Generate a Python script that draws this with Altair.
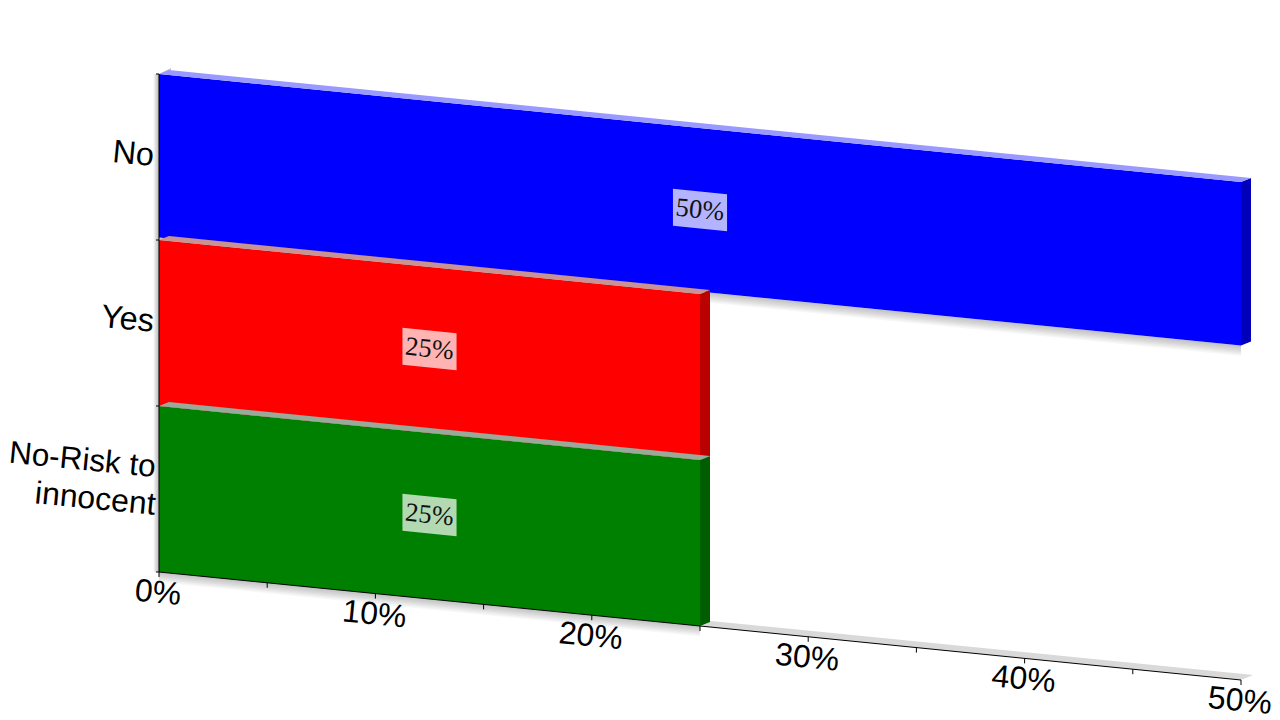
import altair as alt
import pandas as pd

category_lines = [["No"], ["Yes"], ["No-Risk to", "innocent"]]
values = [50, 25, 25]
fronts = ["#0000ff", "#ff0000", "#008000"]
sides = ["#0000bb", "#bb0000", "#005e00"]
tops = ["#9999ff", "#c99393", "#9aaa9a"]
x_ticks = [0, 10, 20, 30, 40, 50]
minor_ticks = [5, 15, 25, 35, 45]

# scale set-up: x in percent, y in category bands, both sheared together
W, H = 1264, 710
PCT = 21.64
BAND = 166.0
X0 = (159 - 8) / PCT
Y0 = (572 - 8) / BAND
x_scale = alt.Scale(domain=[-X0, W / PCT - X0], nice=False, zero=False)
y_scale = alt.Scale(domain=[(564 - H) / BAND, Y0], nice=False, zero=False)
SHEAR = (108 / 50) / BAND
DX, DY = 10 / PCT, 4 / BAND
FDX, FDY = 12 / PCT, 5 / BAND
n = len(category_lines)
# perspective shortens the far bar a little along its lower edge
bottom_lift = [2.5 / BAND, 0.0, 0.0]


def sy(level, x):
    return level - SHEAR * x


def enc(chart):
    return chart.encode(
        x=alt.X("x:Q", scale=x_scale, axis=None),
        y=alt.Y("y:Q", scale=y_scale, axis=None),
        y2="y2:Q",
    )


def area(rows, color, opacity=1.0):
    df = pd.DataFrame(rows, columns=["x", "y", "y2"])
    return enc(alt.Chart(df).mark_area(orient="vertical", color=color, opacity=opacity, interpolate="linear"))


def front(level, v, color, lift=0.0):
    rows = [(0, sy(level + 1, 0), sy(level, 0) + lift),
            (v, sy(level + 1, v), sy(level, v) + lift)]
    return area(rows, color)


def top_face(level, v, color, ddx=DX, ddy=DY):
    f = lambda x: sy(level, x)
    rows = [(0, f(0), f(0)),
            (ddx, f(ddx) + ddy + SHEAR * ddx, f(ddx)),
            (v, f(v) + ddy + SHEAR * ddx, f(v)),
            (v + ddx, f(v) + ddy, f(v) + ddy)]
    return area(rows, color)


def side_face(level, v, color, lift=0.0):
    rows = [(v, sy(level + 1, v), sy(level, v) + lift),
            (v + DX, sy(level + 1, v) + DY, sy(level, v) + DY + lift)]
    return area(rows, color)


layers = []

# soft shadows
for k in range(1, 9):
    off = k * 1.3 / BAND
    layers.append(area([(0, sy(n - 1, 0) + bottom_lift[0], sy(n - 1, 0) + bottom_lift[0] - off),
                        (values[0], sy(n - 1, values[0]) + bottom_lift[0],
                         sy(n - 1, values[0]) + bottom_lift[0] - off)], "#000000", 0.03))
    layers.append(area([(0, sy(0, 0), sy(0, 0) - off),
                        (values[-1], sy(0, values[-1]), sy(0, values[-1]) - off)], "#000000", 0.03))
    side = k * 0.7 / PCT
    layers.append(area([(-side, n, 0), (0, n, 0)], "#000000", 0.035))

# floor and the top of the wall
layers.append(top_face(0, max(values), "#d9d9d9", FDX, FDY))
layers.append(area([(0, n, n), (FDX, n + 6 / BAND, n + 2 / BAND)], "#c4c4c4"))

# bars, back to front
for i, (v, f, s, t) in enumerate(zip(values, fronts, sides, tops)):
    level = n - 1 - i
    layers.append(front(level, v, f, lift=bottom_lift[i]))
    layers.append(side_face(level, v, s, lift=bottom_lift[i]))
    layers.append(top_face(level + 1, v, t))

# axes lines and ticks
base = pd.DataFrame({"x": [0, max(values)], "y": [sy(0, 0), sy(0, max(values))]})
layers.append(alt.Chart(base).mark_line(color="#000000", strokeWidth=1).encode(
    x=alt.X("x:Q", scale=x_scale, axis=None), y=alt.Y("y:Q", scale=y_scale, axis=None)))
layers.append(alt.Chart(pd.DataFrame({"x": [0], "y": [0], "y2": [n]})).mark_rule(color="#000000", strokeWidth=1).encode(
    x=alt.X("x:Q", scale=x_scale, axis=None), y=alt.Y("y:Q", scale=y_scale, axis=None), y2="y2:Q"))
tick_vals = sorted(x_ticks + minor_ticks)
ticks = pd.DataFrame({"x": tick_vals,
                      "y": [sy(0, t) for t in tick_vals],
                      "y2": [sy(0, t) - 5 / BAND for t in tick_vals]})
layers.append(alt.Chart(ticks).mark_rule(color="#000000", strokeWidth=1).encode(
    x=alt.X("x:Q", scale=x_scale, axis=None), y=alt.Y("y:Q", scale=y_scale, axis=None), y2="y2:Q"))
lticks = pd.DataFrame({"x": [0] * (n + 1), "x2": [-3 / PCT] * (n + 1), "y": list(range(n + 1))})
layers.append(alt.Chart(lticks).mark_rule(color="#000000", strokeWidth=1).encode(
    x=alt.X("x:Q", scale=x_scale, axis=None), x2="x2:Q", y=alt.Y("y:Q", scale=y_scale, axis=None)))

# value labels: sheared translucent plate and text
for i, v in enumerate(values):
    c = n - 1 - i + 0.5 + 1 / BAND
    m = v / 2
    hw, hh = 1.25, 18.5 / BAND
    layers.append(area([(m - hw, sy(c, m - hw) + hh, sy(c, m - hw) - hh),
                        (m + hw, sy(c, m + hw) + hh, sy(c, m + hw) - hh)], "#ffffff", 0.7))
labels = pd.DataFrame({"x": [v / 2 for v in values],
                       "y": [sy(n - 1 - i + 0.5 + 1 / BAND, v / 2) for i, v in enumerate(values)],
                       "t": [f"{v}%" for v in values]})
layers.append(alt.Chart(labels).mark_text(font="Liberation Serif", fontSize=26.5, angle=5.6, color="#111111",
                                          align="center", baseline="middle").encode(
    x=alt.X("x:Q", scale=x_scale, axis=None), y=alt.Y("y:Q", scale=y_scale, axis=None), text="t:N"))

# tick labels
xl = pd.DataFrame({"x": [t + 1 / PCT for t in x_ticks], "y": [sy(0, t) for t in x_ticks],
                   "t": [f"{t}%" for t in x_ticks]})
layers.append(alt.Chart(xl).mark_text(font="Liberation Sans", fontSize=32, angle=5.6, color="#000000",
                                      align="center", baseline="middle", dy=21).encode(
    x=alt.X("x:Q", scale=x_scale, axis=None), y=alt.Y("y:Q", scale=y_scale, axis=None), text="t:N"))

# category labels, one text per line
rows = []
for i, lines in enumerate(category_lines):
    c = n - 1 - i + 0.5
    if len(lines) == 1:
        rows.append((-5 / PCT, c + 1 / BAND, lines[0], 32.5))
    else:
        rows.append((-3.5 / PCT, c + 21 / BAND, lines[0], 31.5))
        rows.append((-3.5 / PCT, c - 16 / BAND, lines[1], 32))
yl = pd.DataFrame(rows, columns=["x", "y", "t", "fs"])
layers.append(alt.Chart(yl).mark_text(font="Liberation Sans", angle=5.6, color="#000000",
                                      align="right", baseline="middle").encode(
    x=alt.X("x:Q", scale=x_scale, axis=None), y=alt.Y("y:Q", scale=y_scale, axis=None), text="t:N",
    size=alt.Size("fs:Q", scale=None, legend=None)))

chart = alt.layer(*layers).properties(
    width=W, height=H, padding=0, background="#ffffff",
    autosize=alt.AutoSizeParams(type="none"),
).configure_view(stroke=None)

chart.save("out.html", embed_options={"renderer": "svg", "actions": False})
